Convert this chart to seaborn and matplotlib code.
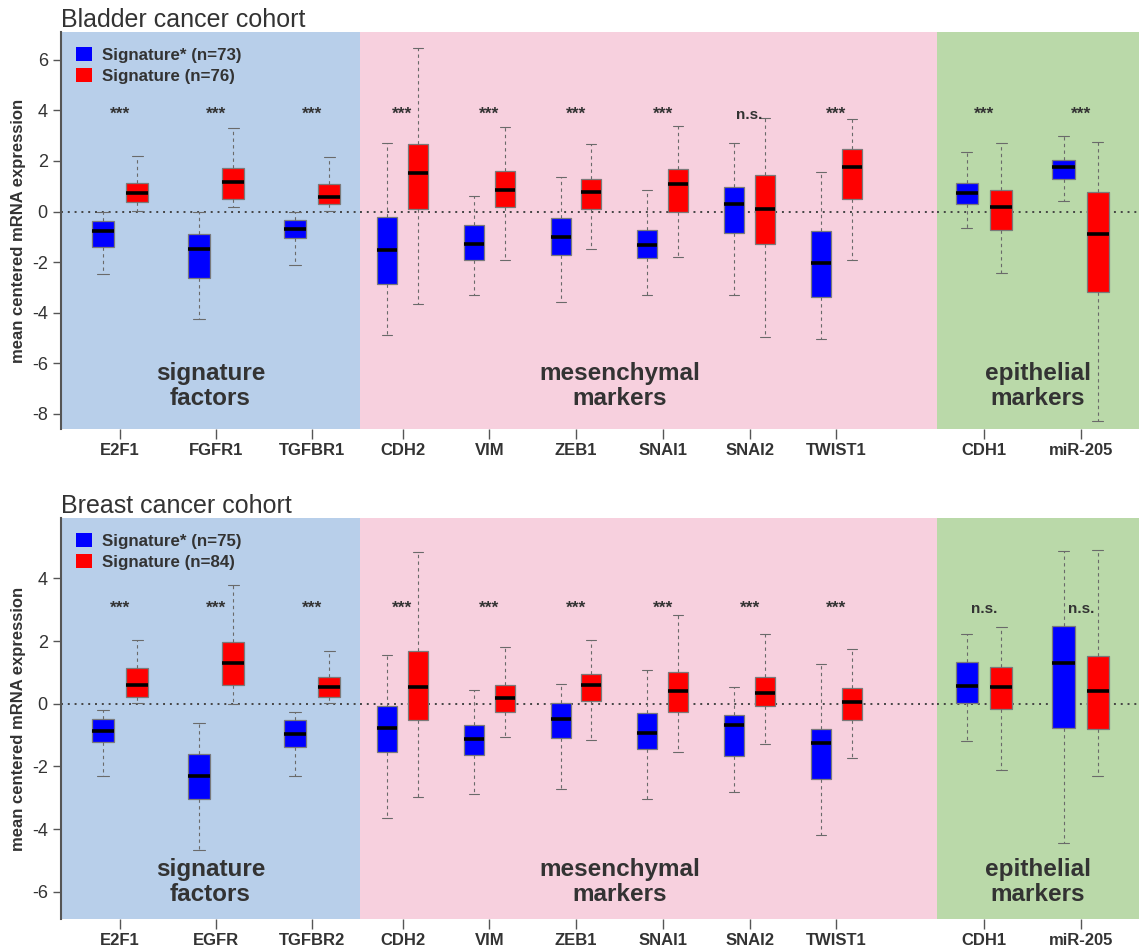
# -*- coding: utf-8 -*-

## Libraries ##

import pandas as pd
import matplotlib
matplotlib.use("Agg")
import matplotlib.pyplot as plt
import seaborn as sns
from matplotlib.patches import Patch

## Data ##
# five-number summaries: [low whisker, Q1, median, Q3, high whisker]

groups = ["Signature*", "Signature"]
panels = ["signature\nfactors", "mesenchymal\nmarkers", "epithelial\nmarkers"]

# Bladder cancer cohort
bladder_genes = [["E2F1", "FGFR1", "TGFBR1"],
                 ["CDH2", "VIM", "ZEB1", "SNAI1", "SNAI2", "TWIST1"],
                 ["CDH1", "miR-205"]]
bladder_star = [[-2.49, -1.40, -0.77, -0.38, 0.00],
                [-4.26, -2.62, -1.49, -0.87, -0.02],
                [-2.13, -1.04, -0.70, -0.32, -0.02],
                [-4.87, -2.86, -1.52, -0.20, 2.71],
                [-3.29, -1.90, -1.30, -0.55, 0.63],
                [-3.58, -1.71, -1.01, -0.26, 1.37],
                [-3.29, -1.83, -1.33, -0.74, 0.84],
                [-3.32, -0.83, 0.28, 0.97, 2.71],
                [-5.03, -3.38, -2.04, -0.77, 1.58],
                [-0.67, 0.29, 0.75, 1.11, 2.34],
                [0.43, 1.29, 1.75, 2.04, 3.00]]
bladder_sig = [[0.02, 0.39, 0.73, 1.13, 2.21],
               [0.18, 0.50, 1.17, 1.74, 3.30],
               [0.02, 0.29, 0.58, 1.08, 2.16],
               [-3.66, 0.09, 1.52, 2.66, 6.47],
               [-1.92, 0.16, 0.84, 1.62, 3.34],
               [-1.48, 0.09, 0.76, 1.29, 2.66],
               [-1.80, -0.03, 1.10, 1.70, 3.38],
               [-4.96, -1.28, 0.12, 1.46, 3.70],
               [-1.92, 0.50, 1.78, 2.46, 3.67],
               [-2.45, -0.75, 0.18, 0.84, 2.71],
               [-8.29, -3.20, -0.88, 0.77, 2.75]]
bladder_pval = ["***", "***", "***", "***", "***", "***", "***", "n.s.", "***", "***", "***"]
bladder_n = [73, 76]

# Breast cancer cohort
breast_genes = [["E2F1", "EGFR", "TGFBR2"],
                ["CDH2", "VIM", "ZEB1", "SNAI1", "SNAI2", "TWIST1"],
                ["CDH1", "miR-205"]]
breast_star = [[-2.32, -1.22, -0.87, -0.48, -0.19],
               [-4.66, -3.04, -2.29, -1.59, -0.62],
               [-2.31, -1.37, -0.96, -0.53, -0.25],
               [-3.65, -1.54, -0.76, -0.06, 1.57],
               [-2.89, -1.64, -1.13, -0.68, 0.45],
               [-2.73, -1.08, -0.49, 0.02, 0.64],
               [-3.04, -1.43, -0.94, -0.30, 1.09],
               [-2.82, -1.68, -0.68, -0.37, 0.53],
               [-4.20, -2.40, -1.25, -0.81, 1.28],
               [-1.19, 0.01, 0.57, 1.32, 2.23],
               [-4.44, -0.76, 1.31, 2.47, 4.88]]
breast_sig = [[0.02, 0.23, 0.61, 1.13, 2.04],
              [0.00, 0.59, 1.31, 1.97, 3.78],
              [0.02, 0.23, 0.55, 0.85, 1.68],
              [-2.98, -0.51, 0.55, 1.67, 4.85],
              [-1.06, -0.25, 0.19, 0.61, 1.82],
              [-1.15, 0.08, 0.59, 0.96, 2.04],
              [-1.53, -0.27, 0.40, 1.02, 2.82],
              [-1.27, -0.06, 0.33, 0.87, 2.23],
              [-1.72, -0.53, 0.06, 0.50, 1.76],
              [-2.12, -0.18, 0.52, 1.17, 2.44],
              [-2.31, -0.82, 0.40, 1.53, 4.92]]
breast_pval = ["***", "***", "***", "***", "***", "***", "***", "***", "***", "n.s.", "n.s."]
breast_n = [75, 84]

## Style ##

sns.set_theme(style="ticks")
plt.rcParams['font.family'] = ['Liberation Sans', 'DejaVu Sans']
plt.rcParams['axes.unicode_minus'] = False

palette = {"Signature*": "#0000FF", "Signature": "#FF0000"}
bg_colors = ["#B8CFEA", "#F7D0DE", "#BAD9A9"]
text_col = "#333333"

W, H = 1139, 949
fig = plt.figure(figsize=(W / 100, H / 100), dpi=100)

# axes layout in pixels: (left, width) per panel
panel_px = [(61, 299), (360, 577), (937, 202)]
xlims = [(-0.615, 2.5), (-0.49, 6.16), (-0.486, 1.603)]
label_x = [0.5, 0.45, 0.5]


def make_long(genes, star, sig):
    rows = []
    flat = [g for sub in genes for g in sub]
    for gi, gene in enumerate(flat):
        for grp, vals in zip(groups, [star[gi], sig[gi]]):
            for v in vals:
                rows.append({"gene": gene, "group": grp, "value": v})
    return pd.DataFrame(rows)


def draw_row(top, bottom, ylim, yticks, title, genes, star, sig, pvals, n, star_y, lab_y):
    df = make_long(genes, star, sig)
    k = 0
    for p, (left, width) in enumerate(panel_px):
        ax = fig.add_axes([left / W, (H - bottom) / H, width / W, (bottom - top) / H])
        ax.set_facecolor(bg_colors[p])
        sub = df[df["gene"].isin(genes[p])]
        sns.boxplot(data=sub, x="gene", y="value", hue="group", order=genes[p],
                    hue_order=groups, palette=palette, saturation=1,
                    whis=(0, 100), width=0.71, gap=0.35, fliersize=0,
                    linecolor="#7a7a7a", linewidth=0.9,
                    medianprops=dict(color="black", linewidth=2.6),
                    whiskerprops=dict(linestyle=(0, (3, 3)), color="#6a6a6a", linewidth=0.8),
                    capprops=dict(color="#6a6a6a", linewidth=0.8),
                    legend=False, ax=ax)
        ax.axhline(0, color="#444444", linestyle=(0, (1, 2.5)), linewidth=1.4, zorder=0.5)
        ax.set_xlim(*xlims[p])
        ax.set_ylim(*ylim)
        ax.set_xlabel("")
        ax.set_ylabel("")
        for i, g in enumerate(genes[p]):
            fs = 12.5 if pvals[k] == "***" else 11
            ax.text(i, star_y, pvals[k], ha="center", va="center", fontsize=fs,
                    fontweight="bold", color=text_col)
            k += 1
        ax.text(label_x[p], lab_y, panels[p], transform=ax.transAxes, ha="center",
                va="center", fontsize=17.5, fontweight="bold", color=text_col,
                linespacing=1.12)
        for s in ["top", "right", "bottom", "left"]:
            ax.spines[s].set_visible(False)
        ax.tick_params(axis="x", length=7, width=1, color="#555555", pad=3,
                       labelsize=12, labelcolor=text_col)
        for lab in ax.get_xticklabels():
            lab.set_fontweight("bold")
        if p == 0:
            ax.spines["left"].set_visible(True)
            ax.spines["left"].set_color("#555555")
            ax.spines["left"].set_linewidth(1.5)
            ax.set_yticks(yticks)
            ax.tick_params(axis="y", length=6, width=1, color="#555555",
                           labelsize=13, labelcolor=text_col)
            ax.set_ylabel("mean centered mRNA expression", fontsize=12,
                          fontweight="bold", color=text_col, labelpad=4)
            ax.set_title(title, loc="left", fontsize=18, color=text_col, pad=3)
            handles = [Patch(facecolor=palette[g], edgecolor="none") for g in groups]
            labels = ["Signature* (n={})".format(n[0]), "Signature (n={})".format(n[1])]
            leg = ax.legend(handles, labels, loc="upper left", frameon=False,
                            handlelength=0.9, handleheight=0.9, handletextpad=0.6,
                            labelspacing=0.3, borderaxespad=0.5,
                            prop={"weight": "bold", "size": 12.2})
            for t in leg.get_texts():
                t.set_color(text_col)
        else:
            ax.set_yticks([])


draw_row(32, 429, (-8.6, 7.1), [-8, -6, -4, -2, 0, 2, 4, 6], "Bladder cancer cohort",
         bladder_genes, bladder_star, bladder_sig, bladder_pval, bladder_n, 3.83, 0.108)
draw_row(518, 919, (-6.87, 5.93), [-6, -4, -2, 0, 2, 4], "Breast cancer cohort",
         breast_genes, breast_star, breast_sig, breast_pval, breast_n, 3.04, 0.093)

plt.savefig("out.png", dpi=100)
